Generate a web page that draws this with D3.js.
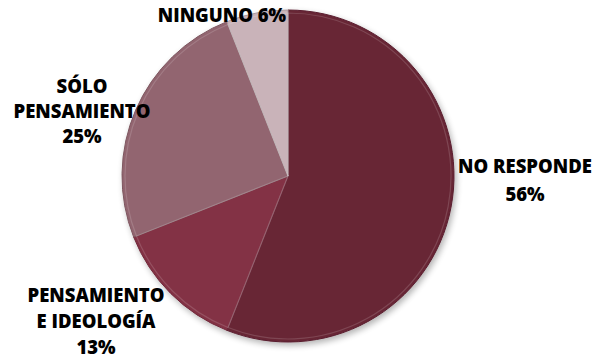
<!DOCTYPE html>
<html>
<head>
<meta charset="utf-8">
<script src="https://cdn.jsdelivr.net/npm/d3@7"></script>
<style>
  html, body { margin: 0; padding: 0; background: #fff; }
  svg { display: block; }
  text { font-family: "Open Sans", "DejaVu Sans", sans-serif; font-weight: 800; fill: #000; }
</style>
</head>
<body>
<svg id="chart" width="598" height="360"></svg>
<script>
// Survey answers, in clockwise order starting at twelve o'clock
const categories = ["NO RESPONDE", "PENSAMIENTO E IDEOLOGÍA", "SÓLO PENSAMIENTO", "NINGUNO"];
const values = [56, 13, 25, 6];
const labelLines = [
  ["NO RESPONDE", "56%"],
  ["PENSAMIENTO", "E IDEOLOGÍA", "13%"],
  ["SÓLO", "PENSAMIENTO", "25%"],
  ["NINGUNO 6%"]
];
const colors = ["#72283b", "#8f354a", "#a06e7a", "#dcc4ca"];

const W = 598, H = 360;
const cx = 288, cy = 176, R = 166;

const svg = d3.select("#chart");
const defs = svg.append("defs");

// soft shadow under the pie
const shadow = defs.append("filter").attr("id", "shadow")
  .attr("x", "-20%").attr("y", "-20%").attr("width", "140%").attr("height", "140%");
shadow.append("feGaussianBlur").attr("in", "SourceAlpha").attr("stdDeviation", 3);
shadow.append("feOffset").attr("dx", 2).attr("dy", 3).attr("result", "off");
shadow.append("feComponentTransfer").append("feFuncA").attr("type", "linear").attr("slope", 0.3);
const merge = shadow.append("feMerge");
merge.append("feMergeNode");
merge.append("feMergeNode").attr("in", "SourceGraphic");

// per-slice radial shading: flat body with a slightly darker rim
colors.forEach((c, i) => {
  const g = defs.append("radialGradient").attr("id", "grad" + i)
    .attr("gradientUnits", "userSpaceOnUse")
    .attr("cx", cx).attr("cy", cy).attr("r", R);
  const base = d3.color(c);
  g.append("stop").attr("offset", "0%").attr("stop-color", base.brighter(0.05));
  g.append("stop").attr("offset", "94%").attr("stop-color", base);
  g.append("stop").attr("offset", "100%").attr("stop-color", base.darker(0.25));
});

const pie = d3.pie().sort(null).value(d => d)(values);
const arc = d3.arc().innerRadius(0).outerRadius(R);
const innerArc = d3.arc().innerRadius(0).outerRadius(R - 3);

const g = svg.append("g").attr("transform", `translate(${cx},${cy})`);
const pieG = g.append("g").attr("filter", "url(#shadow)");

pieG.selectAll("path.slice")
  .data(pie)
  .join("path")
  .attr("class", "slice")
  .attr("d", arc)
  .attr("fill", (d, i) => `url(#grad${i})`)
  .attr("stroke", (d, i) => d3.color(colors[i]).darker(0.7))
  .attr("stroke-width", 1)
  .attr("stroke-linejoin", "round");

// faint bevel highlight along each slice edge
g.selectAll("path.bevel")
  .data(pie)
  .join("path")
  .attr("class", "bevel")
  .attr("d", innerArc)
  .attr("fill", "none")
  .attr("stroke", "rgba(255,255,255,0.15)")
  .attr("stroke-width", 1.2);

// label anchor points (center x, first baseline) and line spacing
const labelPos = [[525, 173], [96, 302], [82, 93], [222, 22]];
const lineGap = [28, 26, 25, 0];

labelLines.forEach((lines, i) => {
  const t = svg.append("text")
    .attr("text-anchor", "middle")
    .attr("font-size", 18.5);
  lines.forEach((ln, j) => {
    t.append("tspan")
      .attr("x", labelPos[i][0])
      .attr("y", labelPos[i][1] + j * lineGap[i])
      .text(ln);
  });
});
</script>
</body>
</html>
